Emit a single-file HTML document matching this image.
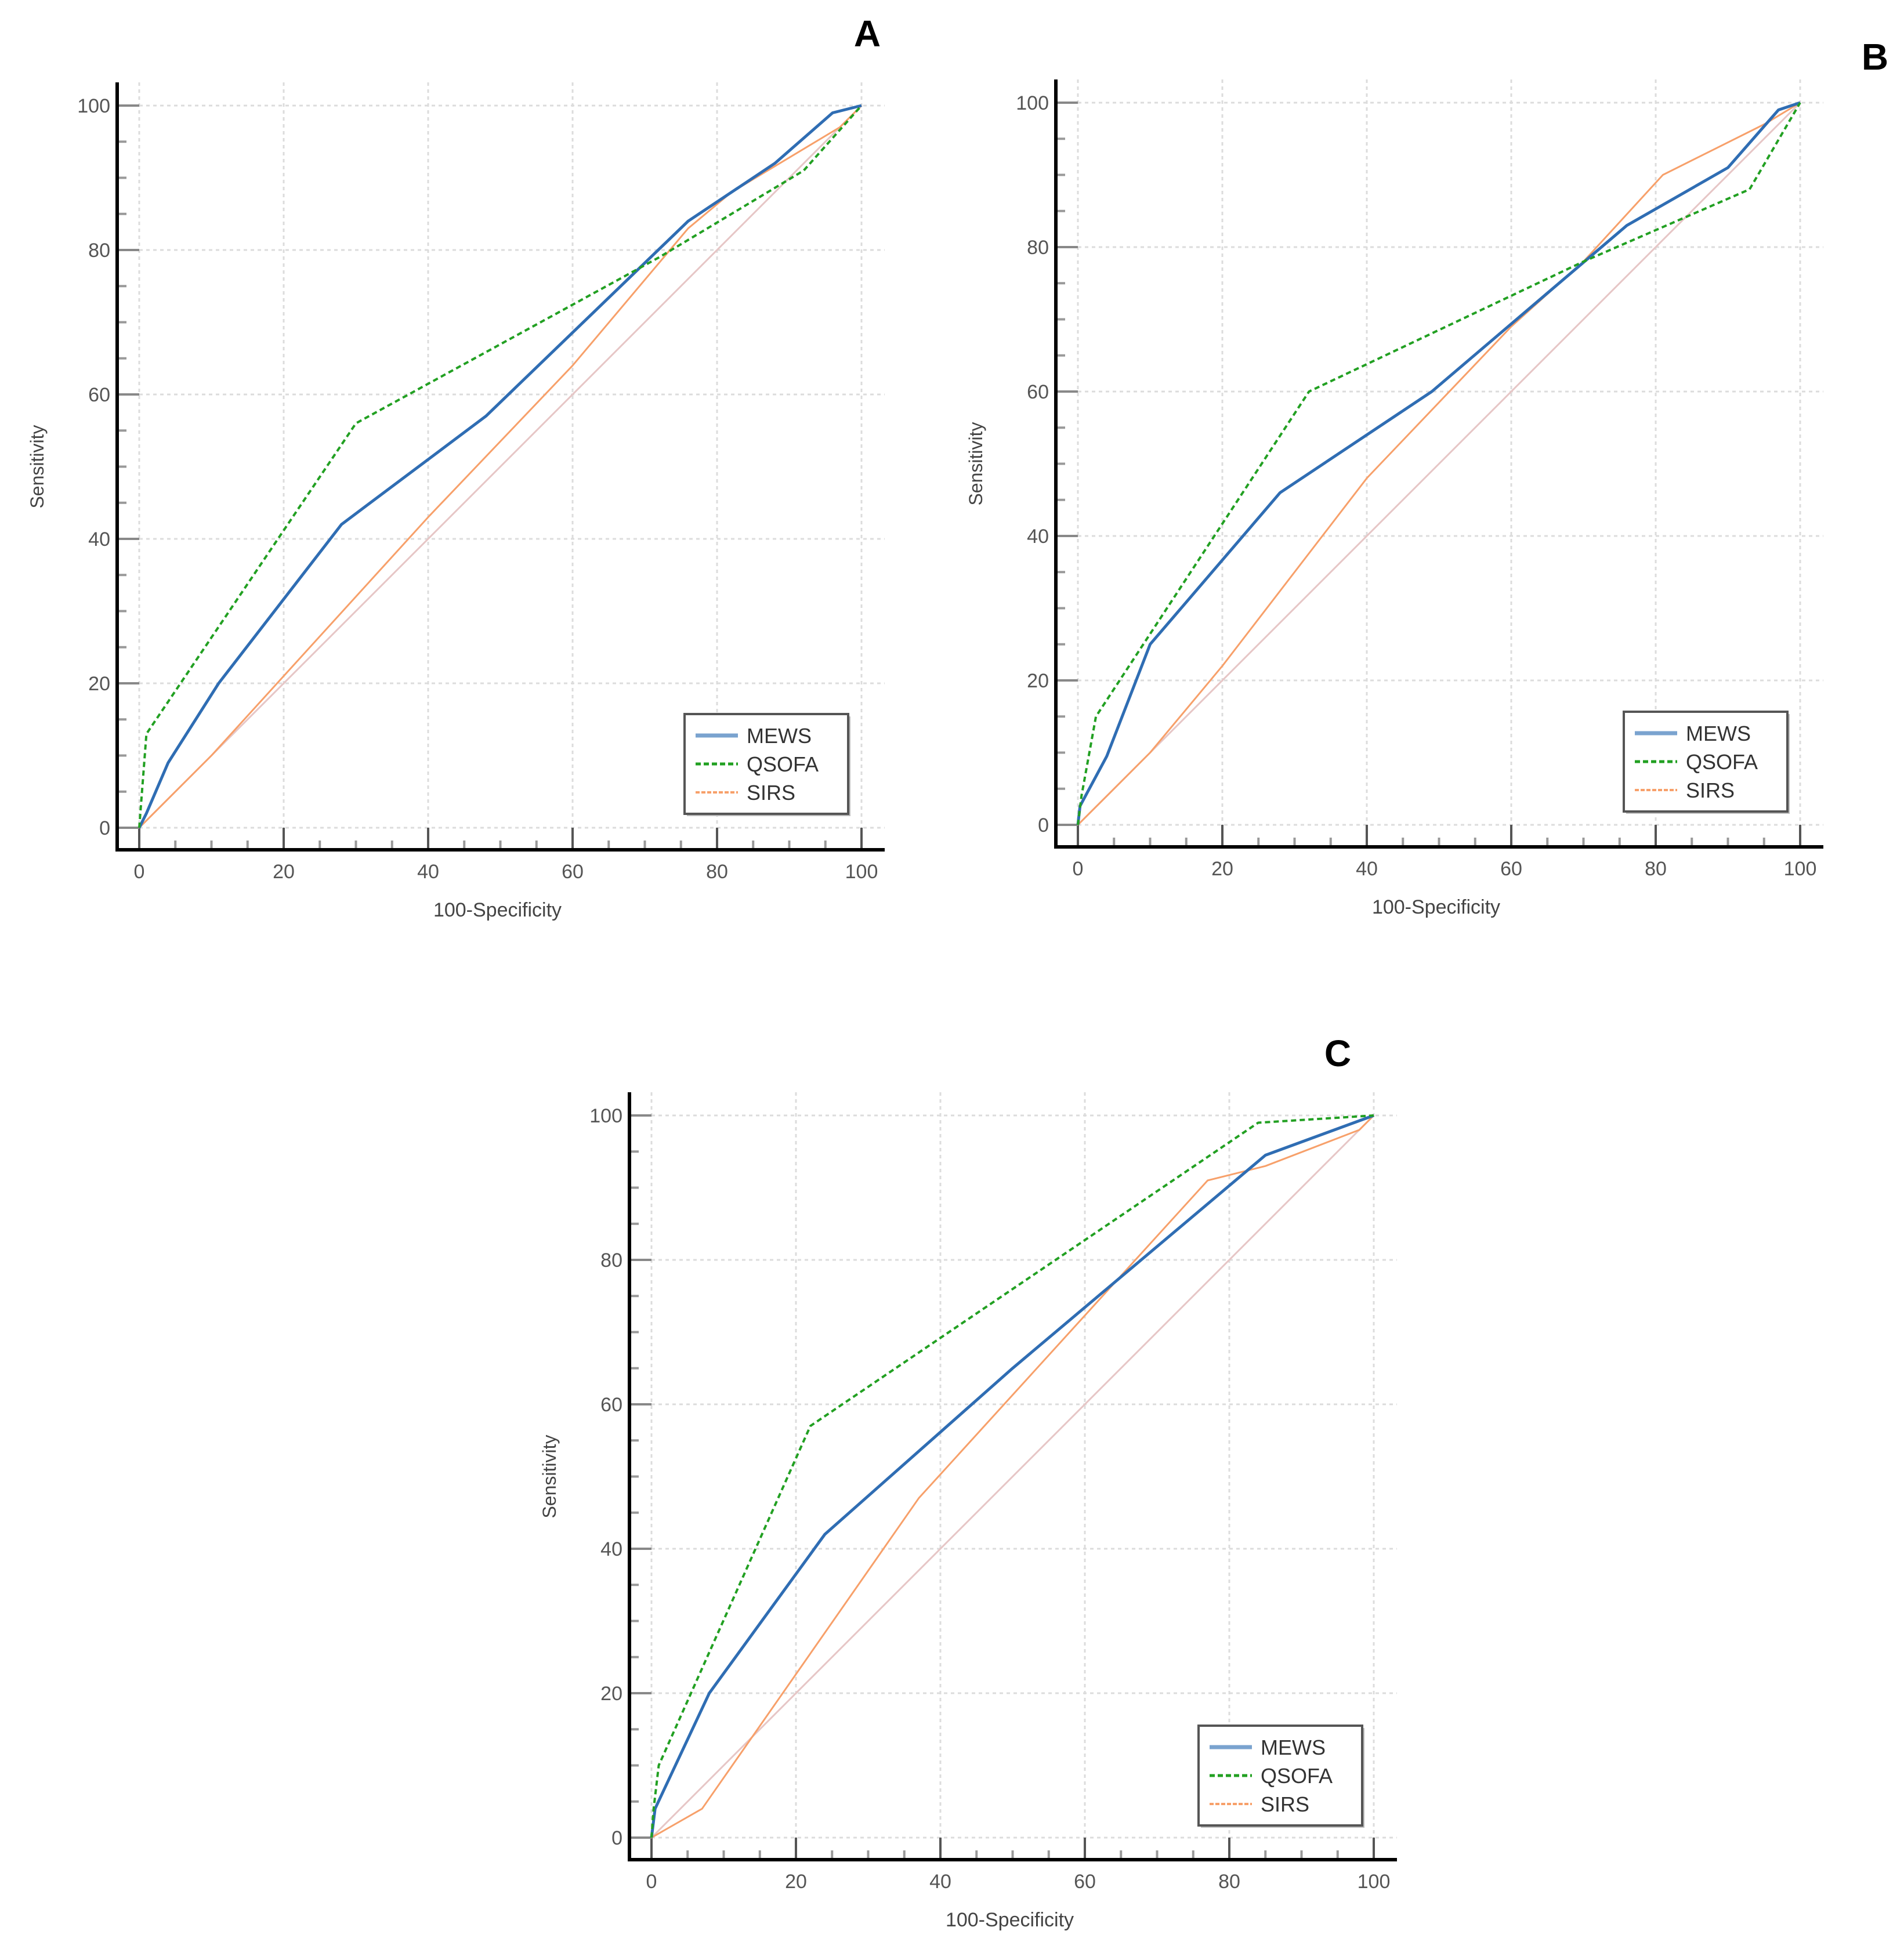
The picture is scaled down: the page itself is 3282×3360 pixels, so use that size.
<!DOCTYPE html>
<html><head><meta charset="utf-8"><style>
html,body{margin:0;padding:0;background:#fff;}
svg{display:block;font-family:"Liberation Sans",Arial,sans-serif;}
</style></head><body>
<svg id="fig" width="3282" height="3360" viewBox="0 0 3282 3360" xmlns="http://www.w3.org/2000/svg"></svg>
<script>
// ---- data ----
const tickValues = [0, 20, 40, 60, 80, 100];
const seriesNames = ["MEWS", "QSOFA", "SIRS"];
// Panel A
const aMewsX = [0, 1, 4, 11, 28, 48, 76, 88, 96, 100];
const aMewsY = [0, 2, 9, 20, 42, 57, 84, 92, 99, 100];
const aQsofaX = [0, 1, 30, 72, 92, 100];
const aQsofaY = [0, 13, 56, 79, 91, 100];
const aSirsX = [0, 10, 20, 40, 60, 76, 82, 97, 100];
const aSirsY = [0, 10, 21, 43, 64, 83, 88, 97, 100];
// Panel B
const bMewsX = [0, 0.3, 4, 10, 28, 49, 76, 90, 97, 100];
const bMewsY = [0, 2.6, 9.5, 25, 46, 60, 83, 91, 99, 100];
const bQsofaX = [0, 0.5, 2.5, 32, 70, 93, 100];
const bQsofaY = [0, 4, 15, 60, 78, 88, 100];
const bSirsX = [0, 5, 10, 20, 40, 60, 70, 81, 95, 100];
const bSirsY = [0, 5, 10, 22, 48, 69, 78, 90, 97, 100];
// Panel C
const cMewsX = [0, 0.5, 8, 24, 50, 85, 100];
const cMewsY = [0, 4, 20, 42, 65, 94.5, 100];
const cQsofaX = [0, 0.3, 1, 22, 84, 100];
const cQsofaY = [0, 4, 10, 57, 99, 100];
const cSirsX = [0, 7, 37, 77, 85, 98, 100];
const cSirsY = [0, 4, 47, 91, 93, 98, 100];

const NS = "http://www.w3.org/2000/svg";
const svg = document.getElementById("fig");
function mk(tag, attrs, parent) {
  const e = document.createElementNS(NS, tag);
  for (const k in attrs) e.setAttribute(k, attrs[k]);
  (parent || svg).appendChild(e);
  return e;
}
const styles = [
  {stroke: "#2f6db3", w: 5, dash: ""},
  {stroke: "#22a022", w: 4, dash: "9 6"},
  {stroke: "#f7a06a", w: 3, dash: ""}
];

function panel(id, x0, y0, letter, lx, ly, legX, legY, data) {
  const g = mk("g", {});
  
  
  const S = 12.45;
  const X = v => x0 + v * S;
  const Y = v => y0 - v * S;
  tickValues.forEach(t => {
    const gv = mk("line", {x1: X(t), y1: Y(100) - 40, x2: X(t), y2: Y(0), stroke: "#dcdcdc", "stroke-width": 3, "stroke-dasharray": "6 6"}, g);
    
    
    const gh = mk("line", {x1: X(0), y1: Y(t), x2: X(100) + 40, y2: Y(t), stroke: "#dcdcdc", "stroke-width": 3, "stroke-dasharray": "6 6"}, g);
    
    
  });
  for (let t = 0; t <= 100; t += 5) {
    const major = t % 20 === 0;
    const tx = mk("line", {x1: X(t), y1: y0 + 38, x2: X(t), y2: major ? Y(0) : y0 + 22, stroke: major ? "#555" : "#999", "stroke-width": 4}, g);
    
    
    const ty = mk("line", {x1: x0 - 38, y1: Y(t), x2: major ? X(0) : x0 - 22, y2: Y(t), stroke: major ? "#888" : "#999", "stroke-width": 4}, g);
    
    
  }
  const ax = mk("path", {d: `M${x0-38},${Y(100)-40} L${x0-38},${y0+38} L${X(100)+40},${y0+38}`, fill: "none", stroke: "#000", "stroke-width": 6}, g);
  
  
  tickValues.forEach(t => {
    const tl = mk("text", {x: X(t), y: y0 + 87, "font-size": 34, fill: "#555", "text-anchor": "middle"}, g);
    tl.textContent = t;
    
    
    const yl = mk("text", {x: x0 - 50, y: Y(t) + 12, "font-size": 34, fill: "#555", "text-anchor": "end"}, g);
    yl.textContent = t;
    
    
  });
  const xt = mk("text", {x: X(50) - 5, y: y0 + 153, "font-size": 34, fill: "#444", "text-anchor": "middle"}, g);
  xt.textContent = "100-Specificity";
  
  
  const ytx = x0 - 165, yty = Y(50);
  const yt = mk("text", {x: ytx, y: yty, "font-size": 32, fill: "#444", "text-anchor": "middle", transform: `rotate(-90 ${ytx} ${yty})`}, g);
  yt.textContent = "Sensitivity";
  
  
  const dg = mk("line", {x1: X(0), y1: Y(0), x2: X(100), y2: Y(100), stroke: "#e6c6c6", "stroke-width": 3}, g);
  
  
  [2, 0, 1].forEach(i => {
    const xs = data[i][0], ys = data[i][1];
    const pts = xs.map((v, k) => X(v).toFixed(1) + "," + Y(ys[k]).toFixed(1)).join(" ");
    const pl = mk("polyline", {points: pts, fill: "none", stroke: styles[i].stroke, "stroke-width": styles[i].w, "stroke-dasharray": styles[i].dash, "stroke-linejoin": "round"}, g);
    
    
  });
  const lg = mk("g", {}, g);
  
  
  mk("rect", {x: legX + 4, y: legY + 4, width: 282, height: 172, fill: "#bbb"}, lg);
  mk("rect", {x: legX, y: legY, width: 282, height: 172, fill: "#fff", stroke: "#555", "stroke-width": 4}, lg);
  seriesNames.forEach((n, i) => {
    const ry = legY + 37 + i * 49;
    const ls = mk("line", {x1: legX + 19, y1: ry, x2: legX + 92, y2: ry, stroke: i === 0 ? "#7aa3cf" : styles[i].stroke, "stroke-width": i === 0 ? 7 : (i === 1 ? 5 : 4), "stroke-dasharray": i === 1 ? "9 5" : (i === 2 ? "7 3" : "")}, lg);
    
    
    const lt = mk("text", {x: legX + 107, y: ry + 13, "font-size": 36, fill: "#333"}, lg);
    lt.textContent = n;
    
    
  });
  const pt = mk("text", {x: lx, y: ly, "font-size": 64, "font-weight": "bold", fill: "#000", "text-anchor": "middle"}, g);
  pt.textContent = letter;
  
  
}

panel("a", 240, 1427, "A", 1495, 80, 1180, 1231,
  [[aMewsX, aMewsY], [aQsofaX, aQsofaY], [aSirsX, aSirsY]]);
panel("b", 1858, 1422, "B", 3232, 120, 2799, 1227,
  [[bMewsX, bMewsY], [bQsofaX, bQsofaY], [bSirsX, bSirsY]]);
panel("c", 1123, 3168, "C", 2306, 1838, 2066, 2975,
  [[cMewsX, cMewsY], [cQsofaX, cQsofaY], [cSirsX, cSirsY]]);
</script>
</body></html>
